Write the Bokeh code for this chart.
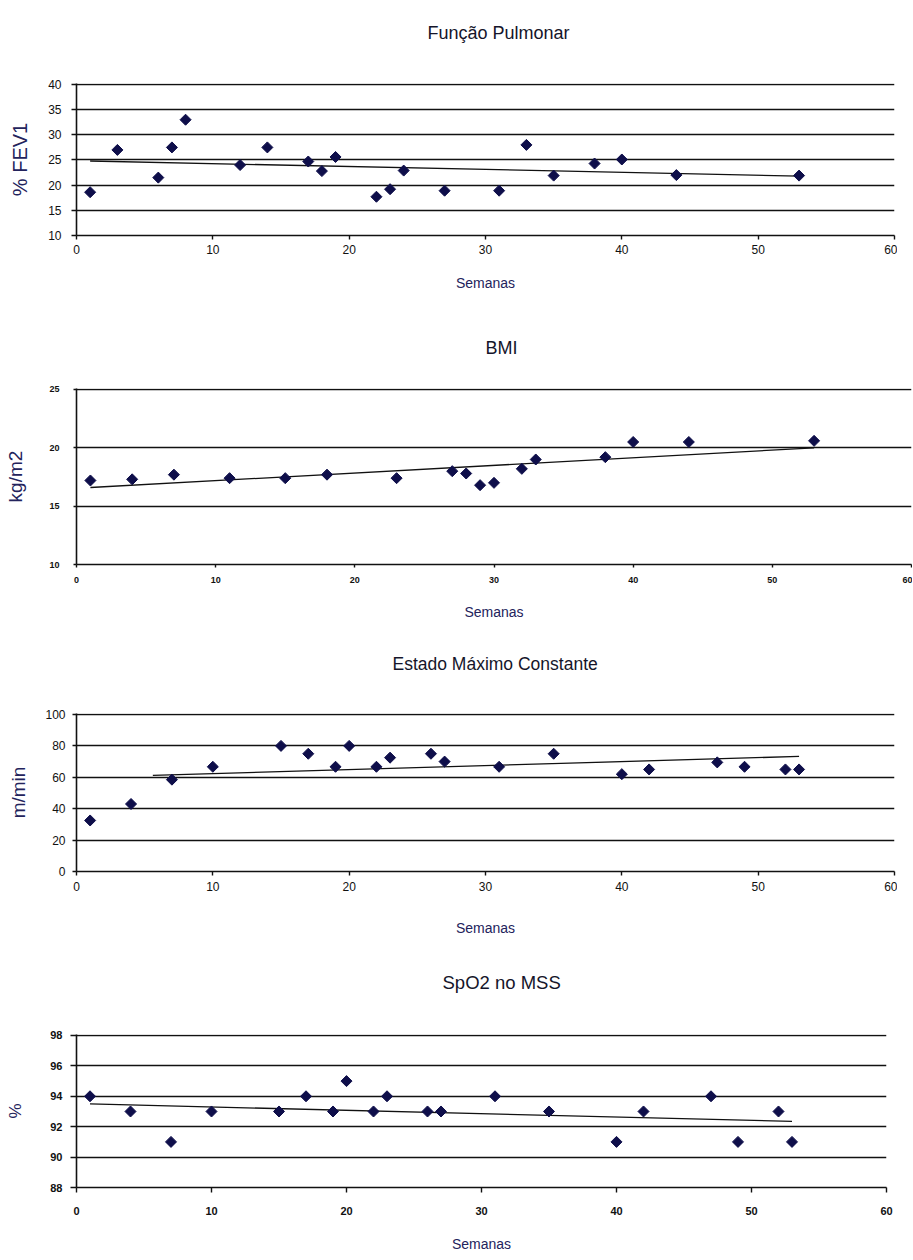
import math
from bokeh.plotting import figure
from bokeh.layouts import column
from bokeh.models import FixedTicker, Range1d, Title
from bokeh.embed import file_html
from bokeh.resources import INLINE

# ---------------- data ----------------
x_ticks = [0, 10, 20, 30, 40, 50, 60]

# Função Pulmonar (% FEV1)
weeks_fev = [1, 3, 6, 7, 8, 12, 14, 17, 18, 19, 22, 23, 24, 27, 31, 33, 35, 38, 40, 44, 53]
fev1 = [18.6, 27, 21.5, 27.5, 33, 24, 27.5, 24.7, 22.8, 25.6, 17.7, 19.2, 22.9, 18.9,
        18.9, 28, 21.9, 24.3, 25.1, 22, 21.9]
fev1_trend_x = [1, 53]
fev1_trend_y = [24.8, 21.8]
fev1_ticks = [10, 15, 20, 25, 30, 35, 40]

# BMI (kg/m2)
weeks_bmi = [1, 4, 7, 11, 15, 18, 23, 27, 28, 29, 30, 32, 33, 38, 40, 44, 53]
bmi = [17.2, 17.3, 17.7, 17.4, 17.4, 17.7, 17.4, 18.0, 17.8, 16.8, 17.0, 18.2, 19.0,
       19.2, 20.5, 20.5, 20.6]
bmi_trend_x = [1, 53]
bmi_trend_y = [16.6, 20.0]
bmi_ticks = [10, 15, 20, 25]

# Estado Máximo Constante (m/min)
weeks_mss = [1, 4, 7, 10, 15, 17, 19, 20, 22, 23, 26, 27, 31, 35, 40, 42, 47, 49, 52, 53]
mss = [32.5, 43, 58.5, 66.7, 80, 75, 66.7, 80, 66.7, 72.5, 75, 70, 66.7, 75, 62, 65,
       69.5, 66.7, 65, 65]
mss_trend_x = [5.6, 53]
mss_trend_y = [61.2, 73.3]
mss_ticks = [0, 20, 40, 60, 80, 100]

# SpO2 no MSS (%)
weeks_spo2 = [1, 4, 7, 10, 15, 17, 19, 20, 22, 23, 26, 27, 31, 35, 40, 42, 47, 49, 52, 53]
spo2 = [94, 93, 91, 93, 93, 94, 93, 95, 93, 94, 93, 93, 94, 93, 91, 93, 94, 91, 93, 91]
spo2_trend_x = [1, 53]
spo2_trend_y = [93.5, 92.35]
spo2_ticks = [88, 90, 92, 94, 96, 98]

NAVY = "#0e0e4a"
LABEL = "#23235c"
TITLE = "#15152a"


def panel(title, ylabel, wx, wy, tx, ty, yticks, *, fw, fh, bl, br, bt, bb,
          tick_font, tick_style, tick_out_x, tick_sx, ylab_size, ylab_standoff,
          tick_out_y, tick_sy, xlab_standoff, title_size, title_offset, title_gap):
    pad = (yticks[-1] - yticks[0]) / fh
    p = figure(frame_width=fw, frame_height=fh, output_backend="svg",
               toolbar_location=None, min_border_left=bl, min_border_right=br,
               min_border_top=bt, min_border_bottom=bb,
               x_range=Range1d(x_ticks[0], x_ticks[-1]),
               y_range=Range1d(yticks[0], yticks[-1] + pad),
               title=title)
    p.title.align = "left"
    p.title.offset = title_offset
    p.title.standoff = 0
    p.title.text_font = "Liberation Sans"
    p.title.text_font_size = title_size
    p.title.text_font_style = "normal"
    p.title.text_color = TITLE
    # empty spacer between the frame and the title
    p.add_layout(Title(text=" ", text_font_size="1px", standoff=title_gap), "above")

    p.outline_line_color = None
    p.background_fill_color = "white"
    p.border_fill_color = "white"

    p.xgrid.visible = False
    p.ygrid.ticker = FixedTicker(ticks=yticks)
    p.ygrid.grid_line_color = "#111111"
    p.ygrid.grid_line_width = 1.6

    for ax, ticks in ((p.xaxis, x_ticks), (p.yaxis, yticks)):
        ax.ticker = FixedTicker(ticks=ticks)
        ax.axis_line_color = "#111111"
        ax.axis_line_width = 1.6
        ax.major_tick_line_color = "#111111"
        ax.major_tick_line_width = 1.4
        ax.major_tick_in = 0
        ax.minor_tick_line_color = None
        ax.major_label_text_font = "Liberation Sans"
        ax.major_label_text_font_size = tick_font
        ax.major_label_text_font_style = tick_style
        ax.major_label_text_color = "#111111"
        ax.axis_label_text_font = "Liberation Sans"
        ax.axis_label_text_font_style = "normal"
        ax.axis_label_text_color = LABEL
    p.xaxis.major_tick_out = tick_out_x
    p.xaxis.major_label_standoff = tick_sx
    p.yaxis.major_tick_out = tick_out_y
    p.yaxis.major_label_standoff = tick_sy
    p.xaxis.axis_label = "Semanas"
    p.xaxis.axis_label_text_font_size = "14px"
    p.xaxis.axis_label_standoff = xlab_standoff
    p.yaxis.axis_label = ylabel
    p.yaxis.axis_label_text_font_size = ylab_size
    p.yaxis.axis_label_standoff = ylab_standoff

    p.line(tx, ty, line_color="#111111", line_width=1.3)
    p.scatter(wx, wy, marker="square", angle=math.pi / 4, size=7.8,
              fill_color=NAVY, line_color=NAVY)
    return p


p1 = panel("Função Pulmonar", "% FEV1", weeks_fev, fev1, fev1_trend_x, fev1_trend_y,
           fev1_ticks, fw=818, fh=152, bl=71, br=8, bt=83, bb=65,
           tick_font="12px", tick_style="normal", tick_out_x=4, tick_sx=5,
           ylab_size="20px", ylab_standoff=14, tick_out_y=5, tick_sy=10,
           xlab_standoff=18, title_size="18px", title_offset=351, title_gap=38)
p2 = panel("BMI", "kg/m2", weeks_bmi, bmi, bmi_trend_x, bmi_trend_y,
           bmi_ticks, fw=835, fh=176, bl=59, br=3, bt=88, bb=58,
           tick_font="9px", tick_style="bold", tick_out_x=3, tick_sx=9,
           ylab_size="19px", ylab_standoff=20, tick_out_y=3, tick_sy=14,
           xlab_standoff=18, title_size="18px", title_offset=409, title_gap=28)
p3 = panel("Estado Máximo Constante", "m/min", weeks_mss, mss, mss_trend_x, mss_trend_y,
           mss_ticks, fw=818, fh=158, bl=76, br=3, bt=91, bb=69,
           tick_font="12px", tick_style="normal", tick_out_x=4, tick_sx=6,
           ylab_size="19px", ylab_standoff=13, tick_out_y=4, tick_sy=7,
           xlab_standoff=26, title_size="17.5px", title_offset=316, title_gap=37)
p4 = panel("SpO2 no MSS", "%", weeks_spo2, spo2, spo2_trend_x, spo2_trend_y,
           spo2_ticks, fw=810, fh=153, bl=75, br=12, bt=94, bb=66,
           tick_font="11px", tick_style="bold", tick_out_x=5, tick_sx=14,
           ylab_size="17px", ylab_standoff=22, tick_out_y=6, tick_sy=8,
           xlab_standoff=18, title_size="18.5px", title_offset=366, title_gap=39)

layout = column(p1, p2, p3, p4, spacing=0)
open("out.html", "w").write(file_html(layout, INLINE))
